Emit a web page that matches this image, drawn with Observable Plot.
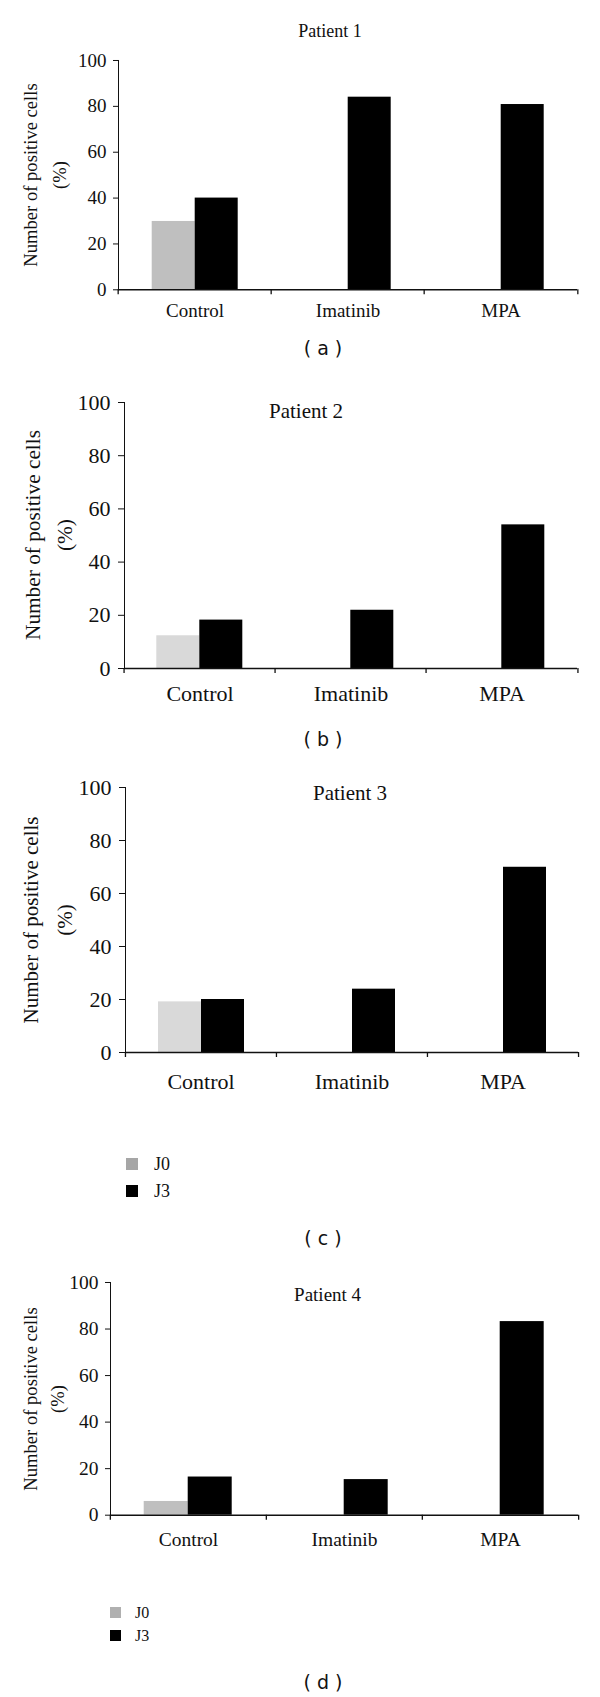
<!DOCTYPE html>
<html>
<head>
<meta charset="utf-8">
<script src="https://cdn.jsdelivr.net/npm/d3@7"></script>
<script src="https://cdn.jsdelivr.net/npm/@observablehq/plot@0.6"></script>
<style>
  html, body { margin: 0; padding: 0; background: #fff; }
  #root { position: relative; width: 600px; height: 1697px; background: #fff; overflow: hidden;
          font-family: "Liberation Serif", serif; color: #111; }
  .abs { position: absolute; white-space: nowrap; line-height: 1; }
  .cap { font-family: "DejaVu Sans", sans-serif; }
  #root svg text { font-family: "Liberation Serif", serif; }
</style>
</head>
<body>
<div id="root"></div>
<script>
// ---------------- data ----------------
const categories = ["Control", "Imatinib", "MPA"];
const seriesNames = ["J0", "J3"];
const yTicks = [0, 20, 40, 60, 80, 100];
const patientTitles = ["Patient 1", "Patient 2", "Patient 3", "Patient 4"];
const panelLabels = ["( a )", "( b )", "( c )", "( d )"];
const yLabelLines = ["Number of positive cells", "(%)"];

const p1J0 = [29.8, null, null];
const p1J3 = [40, 84, 80.8];
const p2J0 = [12.3, null, null];
const p2J3 = [18.2, 21.9, 54];
const p3J0 = [19.1, null, null];
const p3J3 = [20, 23.9, 69.9];
const p4J0 = [5.9, null, null];
const p4J3 = [16.4, 15.3, 83.2];

const panelData = [[p1J0, p1J3], [p2J0, p2J3], [p3J0, p3J3], [p4J0, p4J3]];

// ---------------- layout (page pixels) ----------------
const layouts = [
  {frameTop: 60, frameBottom: 289.3, left: 117.3, right: 578.3, fs: 19, j0: "#bfbfbf",
   title: {x: 330, y: 30.7, fs: 18}, ylab: {x1: 30.5, x2: 59, fs: 18.6},
   catPad: 13.5, yTick: 5, yPad: 7, cap: {x: 323, y: 348}, legend: null},
  {frameTop: 401.7, frameBottom: 667.7, left: 122.7, right: 578.3, fs: 22, j0: "#d9d9d9",
   title: {x: 306, y: 410.7, fs: 21}, ylab: {x1: 33, x2: 65, fs: 21.3},
   catPad: 17, yTick: 6, yPad: 8, cap: {x: 323, y: 739.3}, legend: null},
  {frameTop: 787.3, frameBottom: 1052.3, left: 125, right: 578.3, fs: 22, j0: "#d9d9d9",
   title: {x: 350, y: 793.3, fs: 21}, ylab: {x1: 30.6, x2: 65, fs: 21},
   catPad: 21, yTick: 6, yPad: 8, cap: {x: 323, y: 1238},
   legend: {x: 126, sw: 12, ys: [1164.2, 1190.5], tx: 154, fs: 18, j0: "#a6a6a6"}},
  {frameTop: 1282.3, frameBottom: 1515, left: 109.3, right: 578.3, fs: 19.5, j0: "#bfbfbf",
   title: {x: 327.6, y: 1294, fs: 19}, ylab: {x1: 30.5, x2: 57, fs: 18.6},
   catPad: 16.9, yTick: 5, yPad: 7, cap: {x: 323, y: 1681.7},
   legend: {x: 110, sw: 11, ys: [1612.5, 1635.7], tx: 135, fs: 16, j0: "#b0b0b0"}}
];

const root = document.getElementById("root");
const SERIF = "\"Liberation Serif\", serif";

function addText(txt, x, y, fs, cls, extra) {
  const d = document.createElement("div");
  d.className = "abs" + (cls ? " " + cls : "");
  d.textContent = txt;
  d.style.left = x + "px";
  d.style.top = y + "px";
  d.style.fontSize = fs + "px";
  d.style.transform = "translate(-50%, -50%)";
  if (extra) Object.assign(d.style, extra);
  root.appendChild(d);
  return d;
}

function drawPanel(i) {
  const L = layouts[i];
  const [j0, j3] = panelData[i];
  const rows = [];
  categories.forEach((c, k) => {
    if (j0[k] != null) rows.push({category: c, series: "J0", value: j0[k]});
    if (j3[k] != null) rows.push({category: c, series: "J3", value: j3[k]});
  });
  const mt = 12, mb = 50;
  const height = (L.frameBottom - L.frameTop) + mt + mb;
  const bw = (L.right - L.left) / categories.length;

  const svg = Plot.plot({
    width: 600,
    height,
    marginTop: mt,
    marginBottom: mb,
    marginLeft: L.left,
    marginRight: 600 - L.right,
    style: {fontFamily: SERIF, fontSize: L.fs + "px", color: "#111",
            background: "transparent", overflow: "visible"},
    fx: {domain: categories, padding: 0},
    x: {domain: seriesNames, paddingInner: 0, paddingOuter: 0.75, axis: null},
    y: {domain: [0, 100], ticks: yTicks, tickSize: L.yTick, tickPadding: L.yPad,
        line: true, label: null, tickFormat: d => String(d)},
    color: {domain: seriesNames, range: [L.j0, "#000000"]},
    marks: [
      Plot.barY(rows, {fx: "category", x: "series", y: "value", fill: "series"}),
      Plot.ruleY([0], {stroke: "#111", strokeWidth: 1.4}),
      Plot.axisFx({anchor: "bottom", tickSize: 0, tickPadding: L.catPad, label: null}),
      Plot.axisFx({anchor: "bottom", tickSize: 5, tickFormat: () => "", label: null,
                   dx: -bw / 2, strokeWidth: 1.3}),
      Plot.axisFx({anchor: "bottom", ticks: [categories[categories.length - 1]], tickSize: 5,
                   tickFormat: () => "", label: null, dx: bw / 2, strokeWidth: 1.3})
    ]
  });
  svg.style.position = "absolute";
  svg.style.left = "0px";
  svg.style.top = (L.frameTop - mt) + "px";
  root.appendChild(svg);

  // title
  addText(patientTitles[i], L.title.x, L.title.y, L.title.fs);

  // y label (two lines, rotated)
  const yl = document.createElement("div");
  yl.className = "abs";
  yl.style.left = ((L.ylab.x1 + L.ylab.x2) / 2) + "px";
  yl.style.top = ((L.frameTop + L.frameBottom) / 2) + "px";
  yl.style.fontSize = L.ylab.fs + "px";
  yl.style.lineHeight = (L.ylab.x2 - L.ylab.x1) + "px";
  yl.style.textAlign = "center";
  yl.style.transform = "translate(-50%, -50%) rotate(-90deg)";
  yLabelLines.forEach(t => {
    const ln = document.createElement("div");
    ln.textContent = t;
    yl.appendChild(ln);
  });
  root.appendChild(yl);

  // legend
  if (L.legend) {
    const G = L.legend;
    seriesNames.forEach((s, k) => {
      const sw = document.createElement("div");
      sw.style.position = "absolute";
      sw.style.left = G.x + "px";
      sw.style.top = (G.ys[k] - G.sw / 2) + "px";
      sw.style.width = G.sw + "px";
      sw.style.height = G.sw + "px";
      sw.style.background = k === 0 ? G.j0 : "#000";
      root.appendChild(sw);
      addText(s, G.tx, G.ys[k], G.fs, null, {transform: "translate(0, -50%)"});
    });
  }

  // caption
  addText(panelLabels[i], L.cap.x, L.cap.y, 19, "cap");
}

layouts.forEach((_, i) => drawPanel(i));
</script>
</body>
</html>
